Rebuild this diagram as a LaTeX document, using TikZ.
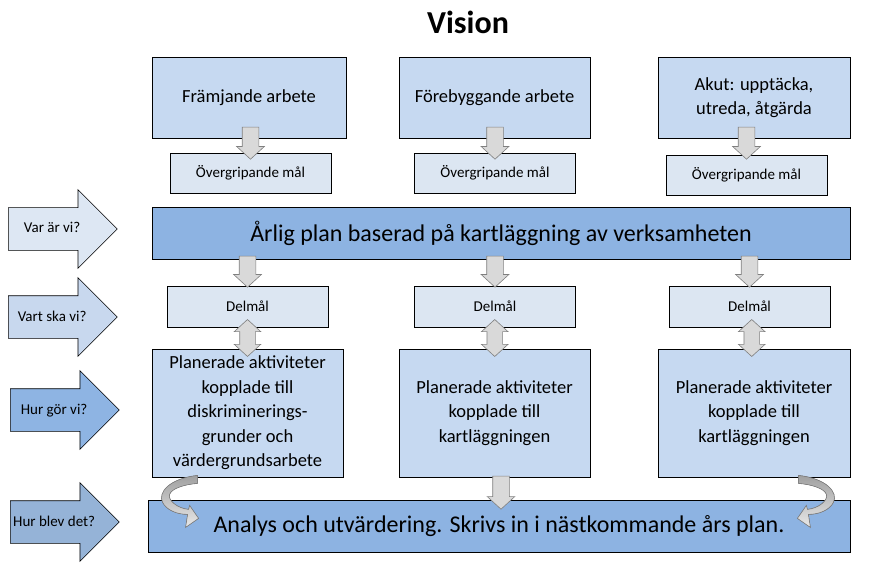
\documentclass[tikz,border=0pt]{standalone}
\usepackage{fontspec}
\setmainfont{Carlito}
\usetikzlibrary{positioning,calc,shapes.arrows}
\definecolor{boxlight}{HTML}{DCE6F2}
\definecolor{boxmid}{HTML}{C6D9F1}
\definecolor{boxdark}{HTML}{8DB3E2}
\definecolor{askone}{HTML}{DDE7F3}
\definecolor{asktwo}{HTML}{C8D8EE}
\definecolor{askthree}{HTML}{8EB4E3}
\definecolor{askfour}{HTML}{95B3D7}
\definecolor{grayfill}{HTML}{D9D9D9}
\definecolor{graydark}{HTML}{A0A0A0}
\definecolor{grayedge}{HTML}{7F7F7F}

\begin{document}
\begin{tikzpicture}[x=1pt,y=-1pt,
    bx/.style={draw,line width=0.8pt,inner sep=0pt,align=center},
    topbox/.style={bx,fill=boxmid,minimum height=81,font=\fontsize{18.5}{24}\selectfont},
    goalbox/.style={bx,fill=boxlight,minimum width=161,minimum height=40,font=\fontsize{15}{17}\selectfont},
    widebox/.style={bx,fill=boxdark,minimum height=52,font=\fontsize{24}{28}\selectfont},
    actbox/.style={bx,fill=boxmid,minimum height=128,font=\fontsize{18.5}{24.5}\selectfont},
    askarrow/.style={single arrow,draw,line width=0.6pt,inner xsep=0pt,inner ysep=14pt,text height=11pt,text depth=3pt,
        minimum height=109,minimum width=78,single arrow head extend=18,single arrow tip angle=90,anchor=tail,
        font=\fontsize{15}{17}\selectfont},
    dnarrow/.style={single arrow,draw=grayedge,fill=grayfill,line width=0.6pt,inner sep=8pt,
        minimum width=27,single arrow head extend=5.5,single arrow tip angle=95,shape border rotate=270,anchor=tip},
    twoarrow/.style={double arrow,draw=grayedge,fill=grayfill,line width=0.6pt,inner sep=7.5pt,
        minimum width=26,minimum height=37,double arrow head extend=5.5,double arrow tip angle=95,shape border rotate=90},
    turnarrow/.style={draw=grayedge,line width=0.6pt,top color=graydark,bottom color=grayfill!60}
]
\useasboundingbox (0,0) rectangle (870,572);

% title
\node[font=\fontsize{32}{36}\selectfont\bfseries] (vision) at (468,22) {Vision};

% three areas
\node[topbox,minimum width=194] (top1) at (249,97.5) {Främjande arbete};
\node[topbox,minimum width=191] (top2) at (494.5,97.5) {Förebyggande arbete};
\node[topbox,minimum width=192] (top3) at (754,97.5) {Akut: upptäcka,\\utreda, åtgärda};

\node[goalbox] (ov1) at (250.5,173) {Övergripande mål};
\node[goalbox] (ov2) at (495,173) {Övergripande mål};
\node[goalbox] (ov3) at (746.5,175) {Övergripande mål};

\node[widebox,minimum width=698] (plan) at (501,233) {Årlig plan baserad på kartläggning av verksamheten};

\node[goalbox,minimum height=41] (del1) at (247.5,306.5) {Delmål};
\node[goalbox,minimum height=41] (del2) at (495,306.5) {Delmål};
\node[goalbox,minimum height=41] (del3) at (749.5,306.5) {Delmål};

\node[actbox,minimum width=191] (act1) at (247.5,413) {Planerade aktiviteter\\kopplade till\\diskriminerings-\\grunder och\\värdergrundsarbete};
\node[actbox,minimum width=191] (act2) at (494.5,413) {Planerade aktiviteter\\kopplade till\\kartläggningen};
\node[actbox,minimum width=192] (act3) at (754,413) {Planerade aktiviteter\\kopplade till\\kartläggningen};

\node[widebox,minimum width=702] (ana) at (499,526) {Analys och utvärdering. Skrivs in i nästkommande års plan.};

% questions on the left
\node[askarrow,fill=askone] (q1) at (8,229) {Var är vi?};
\node[askarrow,fill=asktwo] (q2) at (8,317) {Vart ska vi?};
\node[askarrow,fill=askthree,minimum width=76] (q3) at (10,410) {Hur gör vi?};
\node[askarrow,fill=askfour] (q4) at (10,522) {Hur blev det?};

% gray block arrows
\node[dnarrow,minimum height=32] (a1) at ($(ov1.north)+(0,7)$) {};
\node[dnarrow,minimum height=32] (a2) at ($(ov2.north)+(0,7)$) {};
\node[dnarrow,minimum height=32] (a3) at ($(ov3.north)+(0,5)$) {};
\node[dnarrow,minimum height=31] (b1) at ($(del1.north)+(0,2)$) {};
\node[dnarrow,minimum height=31] (b2) at ($(del2.north)+(0,2)$) {};
\node[dnarrow,minimum height=31] (b3) at ($(del3.north)+(0,2)$) {};
\node[twoarrow] (c1) at ($(del1.south)!.5!(act1.north)$) {};
\node[twoarrow] (c2) at ($(del2.south)!.5!(act2.north)$) {};
\node[twoarrow] (c3) at ($(del3.south)!.5!(act3.north)$) {};
\node[dnarrow,minimum height=33] (d2) at ($(ana.north)+(2,10)$) {};

% curved arrows into the analysis
\begin{scope}[shift={(act1.south west)}]
\filldraw[turnarrow] (46,-2) .. controls (18,1) and (6,15) .. (11,25) .. controls (15,33) and (26,37) .. (36,37)
    -- (34,50) -- (47,41) -- (38,28) -- (37,32) .. controls (26,31) and (16,23) .. (18,17)
    .. controls (20,11) and (33,7) .. (46,6) -- cycle;
\end{scope}
\begin{scope}[shift={($(act3.south east)+(-6,0)$)},xscale=-1]
\filldraw[turnarrow] (46,-2) .. controls (18,1) and (6,15) .. (11,25) .. controls (15,33) and (26,37) .. (36,37)
    -- (34,50) -- (47,41) -- (38,28) -- (37,32) .. controls (26,31) and (16,23) .. (18,17)
    .. controls (20,11) and (33,7) .. (46,6) -- cycle;
\end{scope}
\end{tikzpicture}
\end{document}
